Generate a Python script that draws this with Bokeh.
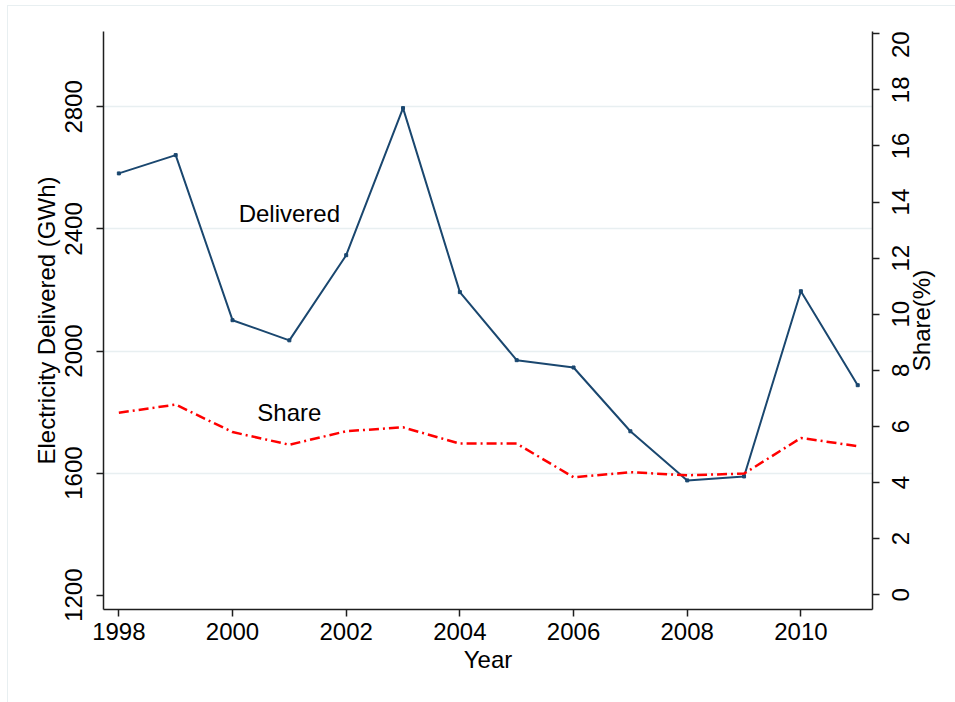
import math

from bokeh.plotting import figure
from bokeh.models import Range1d, LinearAxis, FixedTicker
from bokeh.core.properties import value
from bokeh.embed import file_html
from bokeh.resources import INLINE

# Annual series
years = [1998, 1999, 2000, 2001, 2002, 2003, 2004, 2005, 2006, 2007, 2008, 2009, 2010, 2011]
delivered = [2582, 2642, 2101, 2035, 2314, 2796, 2193, 1970, 1946, 1737, 1576, 1589, 2196, 1888]
share = [6.49, 6.78, 5.80, 5.35, 5.83, 5.97, 5.39, 5.39, 4.19, 4.37, 4.26, 4.32, 5.59, 5.30]

left_ticks = [1200, 1600, 2000, 2400, 2800]
grid_ticks = [1600, 2000, 2400, 2800]
right_ticks = [0, 2, 4, 6, 8, 10, 12, 14, 16, 18, 20]
x_ticks = [1998, 2000, 2002, 2004, 2006, 2008, 2010]

FONT = "Liberation Sans"
FS = "24px"
NAVY = "#1a476f"
RED = "#ff0000"
GRID = "#e8eff1"
AXIS = "#1e1e1e"

W, H = 955, 702
# drawing frame (almost the whole canvas) and the axis box inside it, in px
FL, FR, FT, FB = 10, 950, 8, 694
AL, AR, AT, AB = 103, 872, 31, 609
# data values at the axis box edges
X0, X1 = 1997.73, 2011.26
Y0, Y1 = 1153, 3047
S0, S1 = -0.524, 20.08


def px_x(px):
    return X0 + (px - AL) * (X1 - X0) / (AR - AL)


def py_y(py):
    return Y0 + (AB - py) * (Y1 - Y0) / (AB - AT)


def py_s(py):
    return S0 + (AB - py) * (S1 - S0) / (AB - AT)


p = figure(
    width=W, height=H,
    x_range=Range1d(px_x(FL), px_x(FR)),
    y_range=Range1d(py_y(FB), py_y(FT)),
    output_backend="svg", toolbar_location=None,
    min_border_left=FL, min_border_right=W - FR,
    min_border_top=FT, min_border_bottom=H - FB,
)
p.extra_y_ranges = {"share": Range1d(py_s(FB), py_s(FT))}
p.outline_line_color = None
p.background_fill_color = None
p.border_fill_color = None
p.styles = {
    "background": (
        f"linear-gradient({GRID},{GRID}) 7px 5px / 1px 100% no-repeat, "
        f"linear-gradient({GRID},{GRID}) 7px 5px / 100% 1px no-repeat, white"
    )
}

# grid, only between the two y axes
p.xgrid.visible = False
p.ygrid.ticker = FixedTicker(ticks=grid_ticks)
p.ygrid.grid_line_color = GRID
p.ygrid.grid_line_width = 1.5
p.ygrid.cross_bounds = (X0, X1)


def style_axis(ax):
    ax.axis_line_color = AXIS
    ax.axis_line_width = 1.5
    ax.major_tick_line_color = AXIS
    ax.major_tick_line_width = 1.5
    ax.major_tick_in = 0
    ax.major_tick_out = 7
    ax.minor_tick_line_color = None
    ax.major_label_text_font = FONT
    ax.major_label_text_font_size = FS
    ax.major_label_text_color = "black"


# bottom axis
xa = p.xaxis[0]
xa.ticker = FixedTicker(ticks=x_ticks)
xa.fixed_location = Y0
xa.bounds = (X0, X1)
style_axis(xa)
xa.major_label_standoff = 6

# left axis
ya = p.yaxis[0]
ya.ticker = FixedTicker(ticks=left_ticks)
ya.fixed_location = X0
ya.bounds = (Y0, Y1)
style_axis(ya)
ya.major_label_orientation = "vertical"
ya.major_label_standoff = 14

# share axis: line and ticks, its numbers drawn as rotated text below
ra = LinearAxis(y_range_name="share", ticker=FixedTicker(ticks=right_ticks),
                fixed_location=X1, bounds=(S0, S1))
style_axis(ra)
ra.major_label_text_color = None
ra.major_label_text_font_size = "1px"
ra.major_label_standoff = 0
p.add_layout(ra, "right")

# top share label is nudged down so it stays inside the axis extent
right_label_offsets = [0] * (len(right_ticks) - 1) + [11]
p.text(x=[px_x(899.5)] * len(right_ticks), y=right_ticks,
       text=[str(t) for t in right_ticks], y_offset=right_label_offsets,
       y_range_name="share", angle=math.pi / 2, text_font=value(FONT),
       text_font_size=FS, text_align="center", text_baseline="middle",
       text_color="black")

# axis titles
title_kw = dict(text_font=value(FONT), text_font_size=FS, text_align="center",
                text_baseline="middle", text_color="black")
mid_y = (AT + AB) / 2
p.text(x=[px_x((AL + AR) / 2)], y=[py_y(659)], text=["Year"], **title_kw)
p.text(x=[px_x(46)], y=[py_y(mid_y)], text=["Electricity Delivered (GWh)"],
       angle=math.pi / 2, **title_kw)
p.text(x=[px_x(920.5)], y=[py_y(mid_y)], text=["Share(%)"],
       angle=math.pi / 2, **title_kw)

# series
p.line(years, delivered, line_color=NAVY, line_width=2)
p.scatter(years, delivered, marker="square", size=3, color=NAVY)
p.line(years, share, y_range_name="share", line_color=RED, line_width=2.5,
       line_dash="10 4 2 4")

# in-plot labels
p.text(x=[2001], y=[2450], text=["Delivered"], **title_kw)
p.text(x=[2001], y=[1800], text=["Share"], **title_kw)

open("out.html", "w").write(file_html(p, INLINE))
